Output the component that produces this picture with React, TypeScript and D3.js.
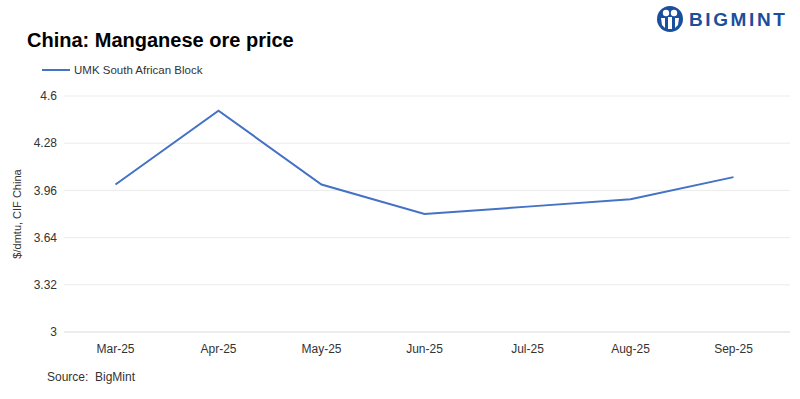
import React from "react";
import * as d3 from "d3";

const width = 800;
const height = 399;

const months = ["Mar-25", "Apr-25", "May-25", "Jun-25", "Jul-25", "Aug-25", "Sep-25"];
const umkPrice = [4.0, 4.5, 4.0, 3.8, 3.85, 3.9, 4.05];
const yTicks = [3, 3.32, 3.64, 3.96, 4.28, 4.6];

const margin = { top: 96, right: 15, bottom: 67, left: 64 };

const x = d3
  .scaleBand<string>()
  .domain(months)
  .range([margin.left, width - margin.right]);

const y = d3
  .scaleLinear()
  .domain([3, 4.6])
  .range([height - margin.bottom, margin.top]);

const line = d3
  .line<number>()
  .x((d, i) => (x(months[i]) as number) + x.bandwidth() / 2)
  .y((d) => y(d));

const font = "'Liberation Sans', Arial, sans-serif";
const narrow = "'Liberation Sans Narrow', 'Liberation Sans', Arial, sans-serif";

const App = () => {
  return (
    <svg
      width={width}
      height={height}
      style={{ position: "absolute", left: 0, top: 0, background: "#fff" }}
    >
      {/* logo */}
      <g transform="translate(670 19)">
        <circle r={13} fill="#1a4f9e" />
        <circle cx={-4} cy={-6} r={3.2} fill="#fff" />
        <circle cx={4} cy={-6} r={3.2} fill="#fff" />
        <rect x={-2} y={-2} width={4} height={12} fill="#fff" />
        <path d="M-9,-1 L-5,-1 L-5,9 L-8,6 Z" fill="#fff" />
        <path d="M9,-1 L5,-1 L5,9 L8,6 Z" fill="#fff" />
      </g>
      <text
        x={689}
        y={26}
        fontFamily={font}
        fontWeight="bold"
        fontSize={19}
        letterSpacing={2.6}
        fill="#1a4f9e"
      >
        BIGMINT
      </text>

      <text x={27} y={47} fontFamily={font} fontWeight="bold" fontSize={20} fill="#000">
        China: Manganese ore price
      </text>

      {/* legend */}
      <line x1={42} x2={70} y1={70} y2={70} stroke="#4472C4" strokeWidth={2} />
      <text x={74} y={74} fontFamily={font} fontSize={11.5} fill="#333">
        UMK South African Block
      </text>

      {/* grid + y ticks */}
      {yTicks.map((t) => (
        <g key={t}>
          <line
            x1={margin.left}
            x2={width - margin.right + 5}
            y1={y(t)}
            y2={y(t)}
            stroke={t === 3 ? "#d9d9d9" : "#ebebeb"}
            strokeWidth={1}
          />
          <text
            x={57}
            y={y(t)}
            dy="0.35em"
            textAnchor="end"
            fontFamily={font}
            fontSize={12}
            fill="#333"
          >
            {d3.format("")(t)}
          </text>
        </g>
      ))}

      <text
        transform={`translate(21 ${(y(3) + y(4.6)) / 2}) rotate(-90)`}
        textAnchor="middle"
        fontFamily={font}
        fontSize={11}
        fill="#333"
      >
        $/dmtu, CIF China
      </text>

      {months.map((m) => (
        <text
          key={m}
          x={(x(m) as number) + x.bandwidth() / 2}
          y={353}
          textAnchor="middle"
          fontFamily={narrow}
          fontSize={12}
          fill="#333"
        >
          {m}
        </text>
      ))}

      <path d={line(umkPrice) || ""} fill="none" stroke="#4472C4" strokeWidth={2} />

      <text
        x={47}
        y={381}
        fontFamily={narrow}
        fontSize={12}
        fill="#333"
        style={{ whiteSpace: "pre" }}
      >
        {"Source:  BigMint"}
      </text>
    </svg>
  );
};

export default App;
